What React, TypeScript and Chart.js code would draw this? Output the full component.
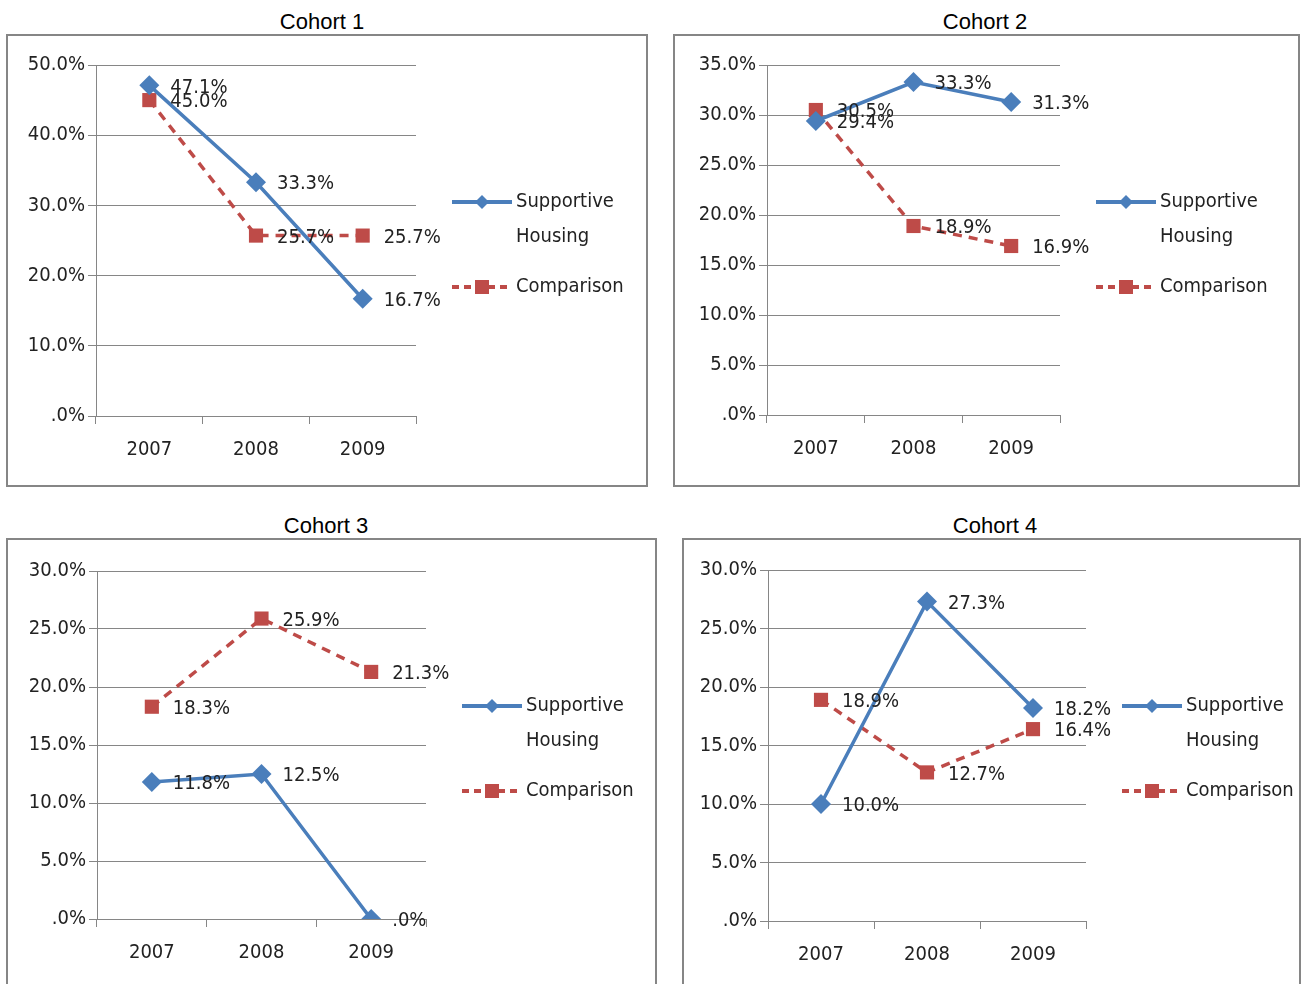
import { useRef, useEffect } from "react";
import { Chart, registerables } from "chart.js";

Chart.register(...registerables);

const years = ["2007", "2008", "2009"];
const sh1 = [47.1, 33.3, 16.7];
const cmp1 = [45.0, 25.7, 25.7];
const sh2 = [29.4, 33.3, 31.3];
const cmp2 = [30.5, 18.9, 16.9];
const sh3 = [11.8, 12.5, 0.0];
const cmp3 = [18.3, 25.9, 21.3];
const sh4 = [10.0, 27.3, 18.2];
const cmp4 = [18.9, 12.7, 16.4];

const BLUE = "#4a7ebb";
const RED = "#be4b48";
const FONT = "'Liberation Sans Narrow', 'DejaVu Sans Condensed', sans-serif";

interface panelProps {
  title: string;
  left: number;
  top: number;
  width: number;
  height: number;
  titleX: number;
  pad: { l: number; r: number; t: number; b: number };
  max: number;
  step: number;
  sh: number[];
  cmp: number[];
}

const Panel = ({ title, left, top, width, height, titleX, pad, max, step, sh, cmp }: panelProps) => {
  const ref = useRef<HTMLCanvasElement | null>(null);

  useEffect(() => {
    const ctx = ref.current!.getContext("2d")!;
    const extras = {
      id: "extras",
      afterDatasetsDraw(chart: any) {
        const c = chart.ctx;
        c.save();
        c.font = "20px " + FONT;
        c.fillStyle = "#222";
        c.textBaseline = "middle";
        c.textAlign = "left";
        chart.data.datasets.forEach((ds: any, i: number) => {
          chart.getDatasetMeta(i).data.forEach((pt: any, j: number) => {
            const v = ds.data[j];
            c.fillText(v === 0 ? ".0%" : v.toFixed(1) + "%", pt.x + 21, pt.y + 2);
          });
        });
        // legend
        const lx = chart.chartArea.right + 36;
        const drawItem = (y: number, color: string, dash: number[], square: boolean) => {
          c.strokeStyle = color;
          c.lineWidth = 4;
          c.setLineDash(dash);
          c.beginPath();
          c.moveTo(lx, y);
          c.lineTo(lx + 60, y);
          c.stroke();
          c.setLineDash([]);
          c.fillStyle = color;
          c.beginPath();
          if (square) {
            c.rect(lx + 23, y - 7, 14, 14);
          } else {
            c.moveTo(lx + 30, y - 7);
            c.lineTo(lx + 37, y);
            c.lineTo(lx + 30, y + 7);
            c.lineTo(lx + 23, y);
            c.closePath();
          }
          c.fill();
        };
        drawItem(166, BLUE, [], false);
        drawItem(251, RED, [7, 5], true);
        c.fillStyle = "#222";
        c.fillText("Supportive", lx + 64, 166);
        c.fillText("Housing", lx + 64, 201);
        c.fillText("Comparison", lx + 64, 251);
        c.restore();
      },
    };
    const chart = new Chart(ctx, {
      type: "line",
      data: {
        labels: years,
        datasets: [
          {
            data: sh,
            borderColor: BLUE,
            backgroundColor: BLUE,
            borderWidth: 3.5,
            pointStyle: "rectRot",
            pointRadius: 10,
            pointBorderWidth: 0,
          },
          {
            data: cmp,
            borderColor: RED,
            backgroundColor: RED,
            borderWidth: 3.5,
            borderDash: [9, 7],
            pointStyle: "rect",
            pointRadius: 10,
            pointBorderWidth: 0,
          },
        ],
      },
      options: {
        animation: false,
        responsive: false,
        layout: { padding: { left: 0, right: pad.r, top: pad.t, bottom: 0 } },
        plugins: { legend: { display: false }, tooltip: { enabled: false } },
        scales: {
          x: {
            offset: true,
            grid: { offset: true, drawOnChartArea: false, tickLength: 8, color: "#868686" },
            border: { color: "#868686" },
            ticks: { font: { family: FONT, size: 20 }, color: "#222", padding: 14 },
            afterFit: (s: any) => { s.height = pad.b; },
          },
          y: {
            min: 0,
            max: max,
            grid: { tickLength: 8, color: "#868686" },
            border: { color: "#868686" },
            ticks: {
              stepSize: step,
              font: { family: FONT, size: 20 },
              color: "#222",
              callback: (v: any) => (v === 0 ? ".0%" : Number(v).toFixed(1) + "%"),
            },
            afterFit: (s: any) => { s.width = pad.l; },
          },
        },
      },
      plugins: [extras],
    } as any);
    return () => {
      chart.destroy();
    };
  }, []);

  return (
    <>
      <div
        style={{
          position: "absolute",
          left: titleX - 100,
          width: 200,
          top: top - 25,
          textAlign: "center",
          fontFamily: "'Liberation Sans', Arial, sans-serif",
          fontSize: 22,
          color: "#000",
        }}
      >
        {title}
      </div>
      <div
        style={{
          position: "absolute",
          left: left,
          top: top,
          width: width - 4,
          height: height - 4,
          border: "2px solid #868686",
          background: "#fff",
          overflow: "hidden",
        }}
      >
        <canvas ref={ref} width={width - 4} height={height - 4} style={{ display: "block" }}></canvas>
      </div>
    </>
  );
};

const App = () => {
  return (
    <div style={{ position: "absolute", left: 0, top: 0, width: 1303, height: 984, background: "#fff", overflow: "hidden" }}>
      <Panel title="Cohort 1" left={6} top={34} width={642} height={453} titleX={322}
        pad={{ l: 88, r: 230, t: 29, b: 69 }} max={50} step={10} sh={sh1} cmp={cmp1} />
      <Panel title="Cohort 2" left={673} top={34} width={627} height={453} titleX={985}
        pad={{ l: 92, r: 238, t: 29, b: 70 }} max={35} step={5} sh={sh2} cmp={cmp2} />
      <Panel title="Cohort 3" left={6} top={538} width={651} height={460} titleX={326}
        pad={{ l: 89, r: 229, t: 31, b: 77 }} max={30} step={5} sh={sh3} cmp={cmp3} />
      <Panel title="Cohort 4" left={682} top={538} width={619} height={460} titleX={995}
        pad={{ l: 84, r: 213, t: 30, b: 75 }} max={30} step={5} sh={sh4} cmp={cmp4} />
    </div>
  );
};

export default App;
